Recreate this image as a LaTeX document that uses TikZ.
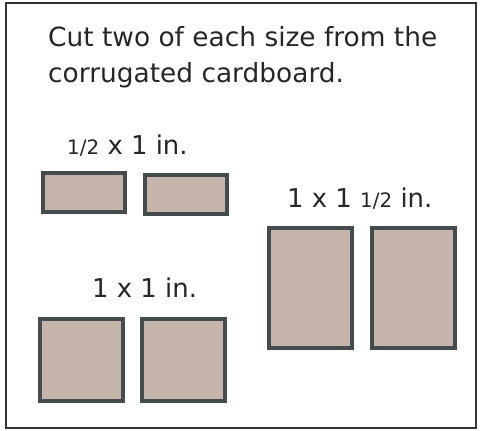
\documentclass[tikz,border=0pt]{standalone}
\usepackage{fontspec}
\setmainfont{DejaVu Sans}
\usetikzlibrary{positioning}
\definecolor{cardfill}{RGB}{198,181,171}
\definecolor{cardedge}{RGB}{68,76,78}
\definecolor{frameedge}{RGB}{51,51,51}
\newcommand{\smallfrac}{{\fontsize{20}{20}\selectfont 1/2}}
\tikzset{
  piece/.style={rectangle, draw=cardedge, fill=cardfill, line width=4bp,
                inner sep=0pt, outer sep=0pt},
  halfpc/.style={piece, minimum width=82bp, minimum height=39bp},
  sqpc/.style={piece, minimum width=83bp, minimum height=82bp},
  tallpc/.style={piece, minimum width=83bp, minimum height=120bp},
  sizelbl/.style={anchor=base west, inner sep=0pt, text=black!85,
                  font=\fontsize{26}{26}\selectfont},
}

\begin{document}
\begin{tikzpicture}[x=1bp, y=-1bp, node distance=20bp]
  \useasboundingbox (0,0) rectangle (482,430);
  \draw[frameedge, line width=2bp] (6,3) rectangle (476,428);
  \node[sizelbl, align=left, font=\fontsize{26.5}{36}\selectfont] (intro) at (48,82)
    {Cut two of each size from the\\corrugated cardboard.};
  % half by one
  \node[halfpc] (half1) at (84,192.5) {};
  \node[halfpc, right=20bp of half1, yshift=-2bp] (half2) {};
  \node[sizelbl] (halflbl) at (67,154) {\smallfrac{} x 1 in.};
  % one by one
  \node[sqpc] (sq1) at (81.5,360) {};
  \node[sqpc, right=19bp of sq1] (sq2) {};
  \node[sizelbl] (sqlbl) at (92,297) {1 x 1 in.};
  % one by one and a half
  \node[tallpc] (tall1) at (310.5,288) {};
  \node[tallpc, right=20bp of tall1] (tall2) {};
  \node[sizelbl] (talllbl) at (287,207) {1 x 1 \smallfrac{} in.};
\end{tikzpicture}
\end{document}
